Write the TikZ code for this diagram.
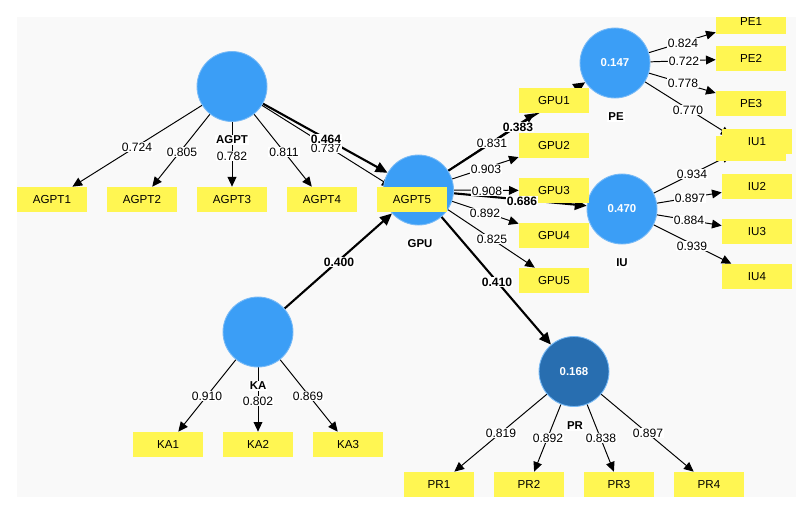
\documentclass[tikz,border=0pt]{standalone}
\usepackage{fontspec}
\setmainfont{Liberation Sans}
\usepackage{xcolor}
\usetikzlibrary{arrows.meta,backgrounds}
\definecolor{lvblue}{RGB}{59,158,246}
\definecolor{lvrim}{RGB}{120,186,246}
\definecolor{lvdark}{RGB}{40,110,176}
\definecolor{indyellow}{RGB}{255,246,82}
\definecolor{canvas}{RGB}{249,249,249}
\tikzset{
  lv/.style     ={circle,fill=lvblue,draw=lvrim,line width=0.5pt,minimum size=1.4cm,inner sep=0pt,
                  text=white,font=\fontsize{6.5}{7}\selectfont\bfseries},
  lvdk/.style   ={fill=lvdark},
  ind/.style    ={rectangle,fill=indyellow,minimum width=1.4cm,minimum height=0.5cm,inner sep=0pt,
                  font=\fontsize{6.6}{7}\selectfont},
  lvname/.style ={fill=white,inner sep=0.6pt,font=\fontsize{6.5}{7}\selectfont\bfseries},
  val/.style    ={fill=white,inner sep=0.6pt,font=\fontsize{6.9}{8}\selectfont},
  coef/.style   ={fill=white,inner sep=0.6pt,font=\fontsize{6.9}{8}\selectfont\bfseries},
  loading/.style={draw=black,line width=0.55pt,-{Triangle[length=5.5pt,width=5pt]}},
  structural/.style={draw=black,line width=1.2pt,-{Triangle[length=6.8pt,width=6pt]}},
}
\begin{document}
\begin{tikzpicture}[x=0.02cm,y=-0.02cm]
  \useasboundingbox (0,0) rectangle (810,515);
  \begin{scope}[on background layer]
    \fill[canvas] (17,17) rectangle (796,497);
  \end{scope}
  % latent variables
  \node[lv] (AGPT) at (232,86.5){};
  \node[lv] (GPU) at (418.5,190){};
  \node[lv] (KA) at (258,332){};
  \node[lv] (PE) at (615,63){0.147};
  \node[lv] (IU) at (622,209){0.470};
  \node[lv,lvdk] (PR) at (574,371.5){0.168};
  % indicators
  \foreach \i/\x in {1/52,2/142,3/232,4/322,5/412}
     \node[ind] (AGPT\i) at (\x,199.5){AGPT\i};
  \foreach \i/\y in {1/100.5,2/145.5,3/190.5,4/235.5,5/280.5}
     \node[ind] (GPU\i) at (554,\y){GPU\i};
  \foreach \i/\x in {1/168,2/258,3/348}
     \node[ind] (KA\i) at (\x,444.5){KA\i};
  \foreach \i/\x in {1/439,2/529,3/619,4/709}
     \node[ind] (PR\i) at (\x,484.5){PR\i};
  \begin{scope}
    \clip (17,17) rectangle (796,497);
    \node[ind] (PE1) at (751,21.5){PE1};
  \end{scope}
  \foreach \i/\y in {2/58.5,3/103.5}
     \node[ind] (PE\i) at (751,\y){PE\i};
  \node[ind] (PE4) at (751,148.5){}; % hidden under IU1
  \foreach \i/\y in {1/141.5,2/186.5,3/231.5,4/276.5}
     \node[ind] (IU\i) at (757,\y){IU\i};
  % connectors below the nodes
  \begin{scope}[on background layer]
    \foreach \i in {1,...,5}{
       \draw[loading] (AGPT) -- (AGPT\i);
       \draw[loading] (GPU) -- (GPU\i);
    }
    \foreach \i in {1,2,3}
       \draw[loading] (KA) -- (KA\i);
    \foreach \i in {1,...,4}{
       \draw[loading] (PE) -- (PE\i);
       \draw[loading] (IU) -- (IU\i);
       \draw[loading] (PR) -- (PR\i);
    }
    \draw[structural] (AGPT) -- (GPU);
    \draw[structural] (KA) -- (GPU);
    \draw[structural] (GPU) -- (PE);
    \draw[structural] (GPU) -- (IU);
    \draw[structural] (GPU) -- (PR);
  \end{scope}
  % names
  \foreach \n/\x/\y in {AGPT/232/140,GPU/420/244,KA/258/386,PE/616/117,IU/622/263,PR/575/426}
     \node[lvname] (n\n) at (\x,\y){\n};
  % loadings
  \foreach \i/\x/\y/\v in {1/137/147/0.724,2/182/152/0.805,3/232/156/0.782,4/284/152/0.811,5/326/148/0.737}
     \node[val] (wAGPT\i) at (\x,\y){\v};
  \foreach \i/\x/\y/\v in {1/492/143/0.831,2/486/169/0.903,3/487/191/0.908,4/485/213/0.892,5/492/239/0.825}
     \node[val] (wGPU\i) at (\x,\y){\v};
  \foreach \i/\x/\y/\v in {1/207/396/0.910,2/258/401/0.802,3/308/396/0.869}
     \node[val] (wKA\i) at (\x,\y){\v};
  \foreach \i/\x/\y/\v in {1/501/433/0.819,2/548/438/0.892,3/601/438/0.838,4/648/433/0.897}
     \node[val] (wPR\i) at (\x,\y){\v};
  \foreach \i/\x/\y/\v in {1/683/43/0.824,2/684/61/0.722,3/683/83/0.778,4/688/110/0.770}
     \node[val] (wPE\i) at (\x,\y){\v};
  \foreach \i/\x/\y/\v in {1/692/174/0.934,2/690/198/0.897,3/689/220/0.884,4/692/246/0.939}
     \node[val] (wIU\i) at (\x,\y){\v};
  % path coefficients
  \node[coef] (cAGPT) at (326,139){0.464};
  \node[coef] (cKA) at (339,262){0.400};
  \node[coef] (cPE) at (518,127){0.383};
  \node[coef] (cIU) at (522,201){0.686};
  \node[coef] (cPR) at (497,282){0.410};
\end{tikzpicture}
\end{document}
